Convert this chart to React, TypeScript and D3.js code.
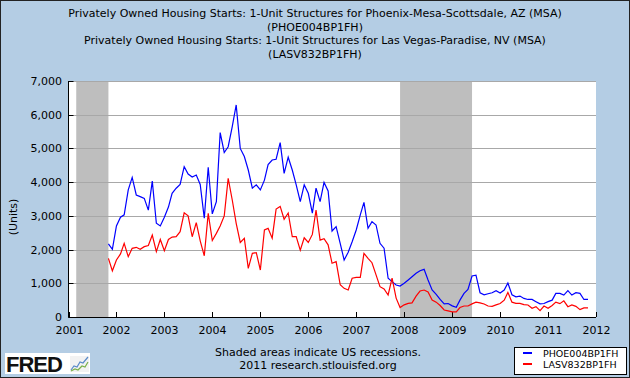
import React from "react";
import * as d3 from "d3";

const W = 630;
const H = 378;

const titleLines = [
  "Privately Owned Housing Starts: 1-Unit Structures for Phoenix-Mesa-Scottsdale, AZ (MSA)",
  "(PHOE004BP1FH)",
  "Privately Owned Housing Starts: 1-Unit Structures for Las Vegas-Paradise, NV (MSA)",
  "(LASV832BP1FH)",
];

const seriesStart = "2001-11-01";

const phoenix = [
  2170, 2010, 2700, 2960, 3030, 3770, 4140, 3620, 3570, 3520, 3170, 4030,
  2780, 2700, 2960, 3260, 3670, 3820, 3930, 4460, 4240, 4150, 4210, 3930,
  2930, 4440, 3060, 3420, 5470, 4880, 5050, 5650, 6290, 5000, 4760, 4360,
  3820, 3920, 3770, 4060, 4520, 4657, 4680, 5170, 4260, 4740, 4360, 3920,
  3420, 3920, 3670, 3080, 3820, 3420, 3990, 3740, 2550, 2680, 2185, 1690,
  1920, 2230, 2580, 3030, 3400, 2630, 2830, 2730, 2185, 2040, 1150, 1050,
  950, 920, 1000, 1100, 1195, 1295, 1374, 1414, 1100, 800, 670, 520,
  390, 400, 330, 290, 500, 700, 820, 1216, 1240, 720, 660, 690,
  720, 780, 710, 800, 1010, 660, 600, 620, 550, 520, 520, 455,
  390, 400, 455, 500, 700, 700, 650, 780, 650, 720, 700, 520,
  520,
];

const lasVegas = [
  1740, 1370, 1690, 1870, 2185, 1790, 2037, 2067, 2007, 2086, 2120, 2432,
  1938, 2300, 1968, 2300, 2370, 2383, 2531, 3090, 3000, 2380, 2800, 2260,
  1815, 3075, 2270, 2480, 2700, 3000, 4114, 3470, 2780, 2210, 2333, 1444,
  1889, 1910, 1394, 2581, 2630, 2340, 3200, 3280, 2900, 3085, 2383, 2383,
  1980, 2350, 2210, 2450, 3174, 2280, 2320, 2140, 1593, 1641, 960, 850,
  801, 1150, 1176, 1176, 1889, 1740, 1610, 1250, 900, 830, 653, 1150,
  560, 280, 360, 405, 420, 620, 770, 800, 740, 504, 440, 340,
  208, 180, 150, 150, 280, 326, 326, 390, 440, 420, 386, 326,
  316, 360, 400, 500, 730, 440, 405, 405, 366, 356, 257, 306,
  188, 326, 257, 340, 440, 395, 480, 306, 356, 316, 218, 270,
  270,
];

const recessionStarts = ["2001-03-01", "2007-12-01"];
const recessionEnds = ["2001-11-01", "2009-06-01"];

const yearTicks = [2001, 2002, 2003, 2004, 2005, 2006, 2007, 2008, 2009, 2010, 2011, 2012];
const yTicks = [0, 1000, 2000, 3000, 4000, 5000, 6000, 7000];

const seriesNames = ["PHOE004BP1FH", "LASV832BP1FH"];
const seriesColors = ["#0000FF", "#FF0000"];

const footerLines = ["Shaded areas indicate US recessions.", "2011 research.stlouisfed.org"];

const FONT = "DejaVu Sans, Verdana, sans-serif";

export default function App() {
  const left = 68.5;
  const right = 596;
  const top = 81;
  const bottom = 317;

  const parse = d3.utcParse("%Y-%m-%d");
  const x = d3
    .scaleUtc()
    .domain([new Date(Date.UTC(2001, 0, 1)), new Date(Date.UTC(2012, 0, 1))])
    .range([left, right]);
  const y = d3.scaleLinear().domain([0, 7000]).range([bottom, top]);

  const start = parse(seriesStart) as Date;
  const dates = phoenix.map((_, i) => d3.utcMonth.offset(start, i));

  const line = d3
    .line<number>()
    .x((_, i) => x(dates[i]))
    .y((d) => y(d));

  const fmt = d3.format(",");

  return (
    <svg
      width={W}
      height={H}
      style={{ position: "absolute", left: 0, top: 0, display: "block" }}
      fontFamily={FONT}
    >
      <rect x={0} y={0} width={W} height={H} fill="#B4CDE4" />
      <rect x={0.5} y={0.5} width={W - 1} height={H - 1} fill="none" stroke="#222" strokeWidth={1} />

      {titleLines.map((t, i) => (
        <text key={i} x={315} y={17 + i * 13.5} textAnchor="middle" fontSize={11} fill="#000">
          {t}
        </text>
      ))}

      <rect x={left} y={top} width={right - left} height={bottom - top} fill="#FFFFFF" />

      {recessionStarts.map((s, i) => {
        const x0 = x(parse(s) as Date);
        const x1 = x(parse(recessionEnds[i]) as Date);
        return <rect key={i} x={x0} y={top} width={x1 - x0} height={bottom - top} fill="#BEBEBE" />;
      })}

      {yTicks.map((t) => (
        <g key={t}>
          {t > 0 && (
            <line
              x1={left}
              x2={right}
              y1={Math.round(y(t)) + 0.5}
              y2={Math.round(y(t)) + 0.5}
              stroke="#A8A8A8"
              strokeWidth={1}
            />
          )}
          <line
            x1={left}
            x2={left + 5}
            y1={Math.round(y(t)) + 0.5}
            y2={Math.round(y(t)) + 0.5}
            stroke="#000"
            strokeWidth={1}
          />
          <text x={62} y={y(t) + 4} textAnchor="end" fontSize={11} fill="#000">
            {fmt(t)}
          </text>
        </g>
      ))}

      {yearTicks.map((yr) => {
        const xx = Math.round(x(new Date(Date.UTC(yr, 0, 1)))) + 0.5;
        return (
          <g key={yr}>
            <line x1={xx} x2={xx} y1={bottom} y2={bottom - 5} stroke="#000" strokeWidth={1} />
            <text x={xx} y={334} textAnchor="middle" fontSize={11} fill="#000">
              {yr}
            </text>
          </g>
        );
      })}

      <path d={line(phoenix) || ""} fill="none" stroke={seriesColors[0]} strokeWidth={1.2} />
      <path d={line(lasVegas) || ""} fill="none" stroke={seriesColors[1]} strokeWidth={1.2} />

      <line x1={left} x2={left} y1={top} y2={bottom + 0.5} stroke="#000" strokeWidth={1} />
      <line x1={left} x2={right} y1={bottom + 0.5} y2={bottom + 0.5} stroke="#000" strokeWidth={1} />

      <text
        transform={`translate(17,217) rotate(-90)`}
        textAnchor="middle"
        fontSize={11}
        fill="#000"
      >
        (Units)
      </text>

      {footerLines.map((t, i) => (
        <text key={i} x={318} y={356 + i * 13} textAnchor="middle" fontSize={11} fill="#000">
          {t}
        </text>
      ))}

      <g>
        <rect x={514.5} y={347.5} width={112} height={27} fill="#FFFFFF" stroke="#000" strokeWidth={1} />
        {seriesNames.map((n, i) => (
          <g key={n}>
            <line
              x1={523}
              x2={532}
              y1={353 + i * 11}
              y2={353 + i * 11}
              stroke={seriesColors[i]}
              strokeWidth={2}
            />
            <text x={543} y={356.5 + i * 11} fontSize={9.5} fill="#000">
              {n}
            </text>
          </g>
        ))}
      </g>

      <g>
        <rect x={5} y={353} width={85} height={21} fill="#FFFFFF" />
        <text
          x={6}
          y={372}
          fontFamily="Liberation Sans, Arial, sans-serif"
          fontWeight="bold"
          fontSize={22}
          fill="#111"
          letterSpacing={-1}
        >
          FRED
        </text>
        <rect x={70} y={356} width={19} height={16} fill="#F2F2F2" />
        <polyline
          points="71,370 74,366 77,367 80,362 83,363 88,357"
          fill="none"
          stroke="#5A8AC8"
          strokeWidth={1.2}
        />
        <polyline
          points="71,371 75,369 78,370 82,366 85,367 88,362"
          fill="none"
          stroke="#7AB04A"
          strokeWidth={1.2}
        />
      </g>
    </svg>
  );
}
